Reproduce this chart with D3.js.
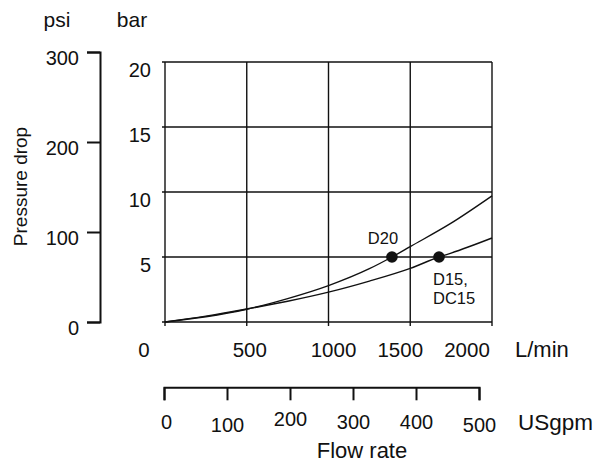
<!DOCTYPE html>
<html>
<head>
<meta charset="utf-8">
<script src="https://cdn.jsdelivr.net/npm/d3@7"></script>
<style>
  html, body { margin: 0; padding: 0; background: #fff; }
  svg { display: block; }
  text { font-family: "Liberation Sans", Arial, sans-serif; fill: #111; }
</style>
</head>
<body>
<svg id="chart" width="610" height="468"></svg>
<script>
// ---- data ----
const flowTicks = [0, 500, 1000, 1500, 2000];          // L/min
const barTicks = [5, 10, 15, 20];                       // bar
const psiTicks = [0, 100, 200, 300];                    // psi
const gpmTicks = [0, 100, 200, 300, 400, 500];          // USgpm
const d20Flow = [0, 250, 500, 750, 1000, 1250, 1388, 1500, 1750, 2000];
const d20Bar  = [0, 0.4, 0.98, 1.8, 2.8, 4.1, 5.0, 5.8, 7.6, 9.7];
const d15Flow = [0, 250, 500, 750, 1000, 1250, 1500, 1676, 1750, 2000];
const d15Bar  = [0, 0.45, 1.0, 1.6, 2.3, 3.15, 4.13, 5.0, 5.3, 6.46];
const markerFlow = [1388, 1676];
const markerBar = [5, 5];
const markerNames = ["D20", "D15, DC15"];

// ---- layout ----
const svg = d3.select("#chart");
const x = d3.scaleLinear().domain([0, 2000]).range([165, 492]);
const yBar = d3.scaleLinear().domain([0, 20]).range([322, 62]);
const yPsi = d3.scaleLinear().domain([0, 300]).range([322, 52]);
const xGpm = d3.scaleLinear().domain([0, 500]).range([164, 479]);
const flowLabelDx = [-21, 3, 5, -10, -25];
const gpmLabelDy = [0, 2.5, -3, 0, 0, 2.5];
const FS = 20;
const FONT = "'Liberation Sans', Arial, sans-serif";

// headers
svg.append("text").attr("x", 57).attr("y", 27).attr("text-anchor", "middle")
  .style("font-size", "21px").text("psi");
svg.append("text").attr("x", 132).attr("y", 27).attr("text-anchor", "middle")
  .style("font-size", "21px").text("bar");
svg.append("text").attr("transform", "translate(26.5,186.5) rotate(-90)")
  .attr("text-anchor", "middle").style("font-size", "19px").text("Pressure drop");

// psi axis
const psiAxis = svg.append("g").attr("transform", "translate(100,0)")
  .call(d3.axisLeft(yPsi).tickValues(psiTicks).tickSize(13).tickPadding(8).tickSizeOuter(13));
psiAxis.selectAll("path, line").attr("stroke", "#111").attr("stroke-width", 2);
psiAxis.selectAll("text").attr("dy", "0.6em").style("font-size", FS + "px")
  .style("font-family", FONT).attr("fill", "#111");

// grid: horizontal bar lines
const grid = svg.append("g").attr("stroke", "#111").attr("stroke-width", 1.4);
grid.selectAll("line.h").data([0].concat(barTicks)).join("line")
  .attr("class", "h")
  .attr("x1", 162).attr("x2", x(2000))
  .attr("y1", d => yBar(d)).attr("y2", d => yBar(d));
// vertical flow lines
grid.selectAll("line.v").data(flowTicks).join("line")
  .attr("class", "v")
  .attr("x1", d => x(d)).attr("x2", d => x(d))
  .attr("y1", yBar(20)).attr("y2", yBar(0) + 4);

// bar labels
svg.append("g").selectAll("text").data(barTicks).join("text")
  .attr("x", 151).attr("y", d => yBar(d) + 14.7)
  .attr("text-anchor", "end").style("font-size", FS + "px").text(d => d);

// flow labels (L/min)
svg.append("g").selectAll("text").data(flowTicks).join("text")
  .attr("x", (d, i) => x(d) + flowLabelDx[i]).attr("y", 356.7)
  .attr("text-anchor", "middle").style("font-size", "20.5px").text(d => d);
svg.append("text").attr("x", 515).attr("y", 356.7).style("font-size", "22px").text("L/min");

// curves
const line = d3.line().x(d => x(d[0])).y(d => yBar(d[1])).curve(d3.curveMonotoneX);
svg.append("path").datum(d20Flow.map((f, i) => [f, d20Bar[i]]))
  .attr("d", line).attr("fill", "none").attr("stroke", "#111").attr("stroke-width", 1.4);
svg.append("path").datum(d15Flow.map((f, i) => [f, d15Bar[i]]))
  .attr("d", line).attr("fill", "none").attr("stroke", "#111").attr("stroke-width", 1.4);

// markers
svg.append("g").selectAll("circle").data(markerFlow).join("circle")
  .attr("cx", d => x(d)).attr("cy", (d, i) => yBar(markerBar[i])).attr("r", 5.8).attr("fill", "#111");

svg.append("text").attr("x", x(markerFlow[0]) - 9).attr("y", yBar(markerBar[0]) - 13)
  .attr("text-anchor", "middle").style("font-size", "16.5px").text(markerNames[0]);
const lab2 = svg.append("text").attr("x", x(markerFlow[1]) - 6).attr("y", yBar(markerBar[1]) + 28)
  .style("font-size", "16.5px");
markerNames[1].split(" ").forEach((s, i) => {
  lab2.append("tspan").attr("x", x(markerFlow[1]) - 6).attr("dy", i ? 19 : 0).text(s);
});

// USgpm axis
const gpmAxis = svg.append("g").attr("transform", "translate(0,387.3)")
  .call(d3.axisBottom(xGpm).tickValues(gpmTicks).tickSize(13).tickPadding(15).tickSizeOuter(13));
gpmAxis.selectAll("path, line").attr("stroke", "#111").attr("stroke-width", 2);
gpmAxis.selectAll("text").style("font-size", FS + "px")
  .style("font-family", FONT).attr("fill", "#111")
  .attr("transform", (d, i) => `translate(${i === 0 ? 2 : 0},${gpmLabelDy[i]})`);
svg.append("text").attr("x", 518).attr("y", 430).style("font-size", "22.5px").text("USgpm");
svg.append("text").attr("x", 362).attr("y", 458.3).attr("text-anchor", "middle")
  .style("font-size", "22px").text("Flow rate");
</script>
</body>
</html>
